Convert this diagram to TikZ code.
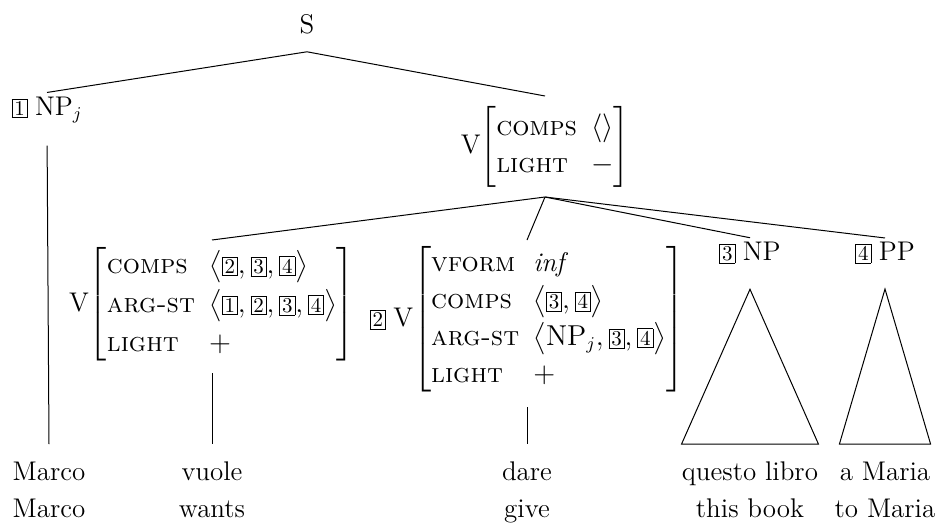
\documentclass[tikz,border=0pt]{standalone}
\usepackage{amsmath,amssymb}
\usepackage{tikz}
\usetikzlibrary{positioning,calc}
\newcommand{\tagbox}[1]{{\setlength{\fboxsep}{1pt}\fbox{\fontsize{10.5}{10.5}\selectfont #1}}}
\newcommand{\feat}[1]{\textsc{#1}}
\newcommand{\avm}[2][1.15]{$\left[\renewcommand{\arraystretch}{#1}\begin{tabular}{@{}l@{\hspace{7pt}}l@{}}#2\end{tabular}\right]$}

\begin{document}
\begin{tikzpicture}[
    x=0.5pt, y=-0.5pt,
    font=\fontsize{13.5}{16}\selectfont,
    cat/.style={inner sep=2pt},
    avmnode/.style={anchor=north, inner sep=1pt, outer ysep=2pt},
    word/.style={anchor=base, inner sep=0pt, text height=9.5pt, text depth=3pt, outer ysep=8.5pt},
    gloss/.style={anchor=base, inner sep=0pt},
    branch/.style={line width=0.5pt},
]
\useasboundingbox (0,0) rectangle (939,525);

% S and its daughters
\node[cat, outer ysep=7pt] (s) at (307,24) {S};
\node[cat] (npj) at (47,110) {\tagbox{1}\;NP$_j$};
\node[avmnode, outer ysep=4pt] (vp) at (545,96) {V\avm{\feat{comps} & $\langle\rangle$\\ \feat{light} & $-$}};

\draw[branch] (s.south) -- (npj.north);
\draw[branch] (s.south) -- (vp.north);

% daughters of the light verb phrase
\node[avmnode] (vwant) at (212,240) {V\avm[1.22]{\feat{comps} & $\bigl\langle\tagbox{2}, \tagbox{3}, \tagbox{4}\bigr\rangle$\\
    \feat{arg-st} & $\bigl\langle\tagbox{1}, \tagbox{2}, \tagbox{3}, \tagbox{4}\bigr\rangle$\\
    \feat{light} & $+$}};
\node[avmnode] (vgive) at (527,240) {\tagbox{2}\;V\avm{\feat{vform} & \textit{inf}\\
    \feat{comps} & $\bigl\langle\tagbox{3}, \tagbox{4}\bigr\rangle$\\
    \feat{arg-st} & $\bigl\langle\mathrm{NP}_j, \tagbox{3}, \tagbox{4}\bigr\rangle$\\
    \feat{light} & $+$}};
\node[cat] (np3) at (750,253) {\tagbox{3}\;NP};
\node[cat] (pp4) at (885,253) {\tagbox{4}\;PP};

\foreach \d in {vwant,vgive,np3,pp4}
    \draw[branch] (vp.south) -- (\d.north);

% words and glosses
\node[word] (w1) at (49,480) {Marco};
\node[word] (w2) at (212,480) {vuole};
\node[word] (w3) at (527,480) {dare};
\node[word] (w4) at (750,480) {questo libro};
\node[word] (w5) at (885,480) {a Maria};
\node[gloss] (g1) at (49,517) {Marco};
\node[gloss] (g2) at (212,517) {wants};
\node[gloss] (g3) at (527,517) {give};
\node[gloss] (g4) at (750,517) {this book};
\node[gloss] (g5) at (885,517) {to Maria};

\draw[branch, shorten <=9pt] (npj.south) -- (w1.north);
\draw[branch, shorten <=2pt] (vwant.south) -- (w2.north);
\draw[branch, shorten <=4pt] (vgive.south) -- (w3.north);

% roofs
\draw[branch] ([yshift=-10.5pt]np3.south) -- (w4.north west) -- (w4.north east) -- cycle;
\draw[branch] ([yshift=-10.5pt]pp4.south) -- (w5.north west) -- (w5.north east) -- cycle;

\end{tikzpicture}
\end{document}
